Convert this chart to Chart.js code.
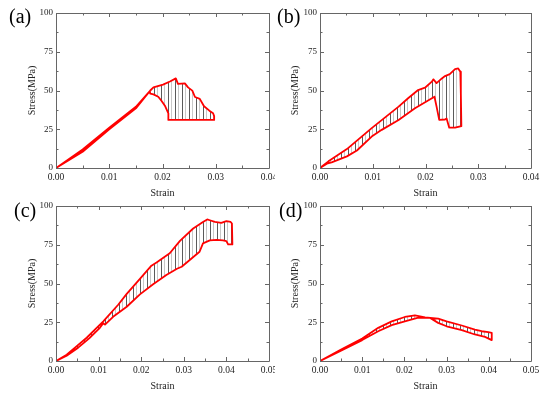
<!DOCTYPE html>
<html>
<head>
<meta charset="utf-8">
<script src="https://cdn.jsdelivr.net/npm/chart.js@4.4.0/dist/chart.umd.min.js"></script>
<style>
  html, body { margin: 0; padding: 0; background: #fff; }
  body { width: 550px; height: 395px; position: relative; overflow: hidden; font-family: 'Liberation Serif', 'Times New Roman', serif; }
  .panel { position: absolute; width: 275px; overflow: hidden; }
  .panel canvas { position: absolute; top: 0; }
  .tag { position: absolute; font-size: 20px; line-height: 20px; color: #000; }
</style>
</head>
<body>
<div class="panel" style="left:0;top:0;height:200px"><canvas id="chartA" width="286" height="200" style="left:0"></canvas></div>
<div class="panel" style="left:275px;top:0;height:200px"><canvas id="chartB" width="286" height="200" style="left:-11px"></canvas></div>
<div class="panel" style="left:0;top:193px;height:202px"><canvas id="chartC" width="286" height="200" style="left:0"></canvas></div>
<div class="panel" style="left:275px;top:193px;height:202px"><canvas id="chartD" width="286" height="200" style="left:-11px"></canvas></div>
<div class="tag" style="left:9px;top:6px">(a)</div>
<div class="tag" style="left:277px;top:6px">(b)</div>
<div class="tag" style="left:14px;top:200px">(c)</div>
<div class="tag" style="left:279px;top:200px">(d)</div>
<script>
// (a)
const upperStrainA = [0, 0.005, 0.01, 0.015, 0.0177, 0.0183, 0.0201, 0.0214, 0.0225, 0.0229, 0.0242, 0.0248, 0.0256, 0.0261, 0.027, 0.0278, 0.0288, 0.0295, 0.0297];
const upperStressA = [0, 12, 26, 39.5, 50, 52, 53.8, 55.8, 57.8, 54.3, 54.6, 52, 49.9, 45.8, 44.6, 39.8, 37, 35.3, 33.5];
const lowerStrainA = [0, 0.005, 0.01, 0.015, 0.0176, 0.0177, 0.0183, 0.0192, 0.0198, 0.02045, 0.0211, 0.0212, 0.0297];
const lowerStressA = [0, 10.5, 25, 38.5, 49.5, 48, 47.5, 46, 43.4, 40.2, 35.3, 31, 31];
// (b)
const upperStrainB = [0, 0.0016, 0.0051, 0.0098, 0.0149, 0.0167, 0.0186, 0.0199, 0.0212, 0.0215, 0.0221, 0.0231, 0.0237, 0.0246, 0.0256, 0.0262, 0.0266, 0.0267, 0.0268];
const upperStressB = [0, 4.3, 12.2, 25.7, 39.6, 45, 50.3, 51.8, 55.7, 57.2, 54.8, 57.8, 59.3, 60.6, 63.8, 64.2, 62.1, 48.2, 27];
const lowerStrainB = [0, 0.0013, 0.0022, 0.0051, 0.007, 0.0098, 0.0117, 0.0149, 0.018, 0.0217, 0.0221, 0.0226, 0.0237, 0.024, 0.0245, 0.0256, 0.0268];
const lowerStressB = [0, 2.8, 3.6, 7.5, 11.3, 20.3, 24.6, 31, 38.5, 46, 39.6, 31, 31.3, 32, 26, 26, 27];
// (c)
const upperStrainC = [0, 0.0025, 0.0048, 0.0072, 0.0099, 0.0111, 0.0146, 0.0166, 0.0197, 0.0224, 0.0236, 0.0267, 0.0291, 0.0322, 0.0345, 0.0355, 0.0361, 0.0373, 0.0388, 0.04, 0.041, 0.0413, 0.0414];
const upperStressC = [0, 4, 9.4, 15, 22.4, 25.6, 36.3, 43.3, 53, 61.5, 63.6, 69.5, 77.5, 85.5, 89.7, 91.3, 90.8, 89.7, 89.1, 90.2, 89.7, 88.7, 76];
const lowerStrainC = [0, 0.0025, 0.0052, 0.0078, 0.0103, 0.0111, 0.0115, 0.0134, 0.0166, 0.0197, 0.0228, 0.0259, 0.0284, 0.0295, 0.0337, 0.0345, 0.0361, 0.0377, 0.0392, 0.04, 0.0404, 0.0414];
const lowerStressC = [0, 3.4, 8.6, 14.6, 21.4, 24.4, 23.5, 28.5, 35, 43, 49.5, 55.5, 59.5, 60.8, 70.5, 75.9, 77.8, 78.2, 77.8, 77.4, 75.2, 75.2];
// (d)
const upperStrainD = [0, 0.0051, 0.01, 0.0138, 0.017, 0.0201, 0.0225, 0.0249, 0.028, 0.03, 0.0336, 0.0367, 0.0383, 0.0399, 0.0407, 0.0407];
const upperStressD = [0, 7.5, 14.5, 21.4, 25.6, 28.4, 29.5, 28.2, 27.4, 25.6, 22.9, 20.3, 19.2, 18.6, 18.2, 15];
const lowerStrainD = [0, 0.0051, 0.01, 0.0138, 0.017, 0.0201, 0.0233, 0.0261, 0.028, 0.03, 0.0336, 0.0367, 0.0391, 0.0407];
const lowerStressD = [0, 6.8, 13.5, 19.2, 23.1, 25.6, 28, 27.8, 24.6, 22.4, 19.9, 17.1, 15.6, 13.5];

const stressTicks = [0, 25, 50, 75, 100];

const serif = "'Liberation Serif', 'Times New Roman', serif";
const inkColor = '#222';
const frameColor = '#666';

// vertical hatch used to fill between the two curves
function hatchPattern() {
  const c = document.createElement('canvas');
  c.width = 7; c.height = 4;
  const g = c.getContext('2d');
  g.fillStyle = '#5a5a5a'; g.fillRect(0, 0, 1, 4);
  g.fillStyle = '#c8c8c8'; g.fillRect(3, 0, 1, 4);
  return g.createPattern(c, 'repeat');
}

// upper curve out, lower curve back -> one closed outline
function loop(ux, uy, lx, ly) {
  const up = ux.map((x, i) => ({x: x, y: uy[i]}));
  const lo = lx.map((x, i) => ({x: x, y: ly[i]})).reverse();
  return up.concat(lo);
}

// box frame with inward major/minor ticks on all four sides
const frameTicks = {
  id: 'frameTicks',
  afterDraw(chart) {
    const {ctx, chartArea: a, scales} = chart;
    const x = scales.x, y = scales.y;
    ctx.save();
    ctx.strokeStyle = frameColor;
    ctx.lineWidth = 1;
    ctx.beginPath();
    ctx.rect(Math.round(a.left) + 0.5, Math.round(a.top) + 0.5, Math.round(a.right - a.left), Math.round(a.bottom - a.top));
    ctx.stroke();
    ctx.beginPath();
    const xv = x.ticks.map(t => t.value);
    xv.forEach((v, i) => {
      const px = Math.round(x.getPixelForValue(v)) + 0.5;
      ctx.moveTo(px, a.bottom); ctx.lineTo(px, a.bottom - 4);
      ctx.moveTo(px, a.top); ctx.lineTo(px, a.top + 4);
      if (i < xv.length - 1) {
        const mx = Math.round(x.getPixelForValue((v + xv[i + 1]) / 2)) + 0.5;
        ctx.moveTo(mx, a.bottom); ctx.lineTo(mx, a.bottom - 2.5);
        ctx.moveTo(mx, a.top); ctx.lineTo(mx, a.top + 2.5);
      }
    });
    const yv = y.ticks.map(t => t.value);
    yv.forEach((v, i) => {
      const py = Math.round(y.getPixelForValue(v)) + 0.5;
      ctx.moveTo(a.left, py); ctx.lineTo(a.left + 4, py);
      ctx.moveTo(a.right, py); ctx.lineTo(a.right - 4, py);
      if (i < yv.length - 1) {
        const my = Math.round(y.getPixelForValue((v + yv[i + 1]) / 2)) + 0.5;
        ctx.moveTo(a.left, my); ctx.lineTo(a.left + 2.5, my);
        ctx.moveTo(a.right, my); ctx.lineTo(a.right - 2.5, my);
      }
    });
    ctx.stroke();
    ctx.restore();
  }
};

function makeChart(id, data, xMax, yAxisWidth, padLeft, padRight) {
  new Chart(document.getElementById(id), {
    type: 'line',
    data: {
      datasets: [{
        data: data,
        borderColor: '#ff0000',
        borderWidth: 1.8,
        borderJoinStyle: 'round',
        pointRadius: 0,
        tension: 0,
        fill: 'shape',
        backgroundColor: hatchPattern()
      }]
    },
    options: {
      responsive: false,
      animation: false,
      layout: { padding: { left: padLeft, right: padRight, top: 13, bottom: 1 } },
      plugins: { legend: { display: false }, tooltip: { enabled: false } },
      scales: {
        x: {
          type: 'linear', min: 0, max: xMax,
          ticks: { stepSize: 0.01, autoSkip: false, maxRotation: 0, padding: 4, color: inkColor,
                   font: { family: serif, size: 9.5 }, callback: v => v.toFixed(2) },
          grid: { display: false, drawTicks: false },
          border: { display: false },
          title: { display: true, text: 'Strain', color: inkColor, padding: 0, font: { family: serif, size: 10 } },
          afterFit(s) { s.height = 31; }
        },
        y: {
          type: 'linear', min: 0, max: 100,
          afterBuildTicks(s) { s.ticks = stressTicks.map(v => ({value: v})); },
          ticks: { padding: 3, color: inkColor, font: { family: serif, size: 9 } },
          grid: { display: false, drawTicks: false },
          border: { display: false },
          title: { display: true, text: 'Stress(MPa)', color: inkColor, padding: 0, font: { family: serif, size: 10 } },
          afterFit(s) { s.width = yAxisWidth; }
        }
      }
    },
    plugins: [frameTicks]
  });
}

makeChart('chartA', loop(upperStrainA, upperStressA, lowerStrainA, lowerStressA), 0.04, 30, 26, 17);
makeChart('chartB', loop(upperStrainB, upperStressB, lowerStrainB, lowerStressB), 0.04, 31, 25, 19);
makeChart('chartC', loop(upperStrainC, upperStressC, lowerStrainC, lowerStressC), 0.05, 30, 26, 17);
makeChart('chartD', loop(upperStrainD, upperStressD, lowerStrainD, lowerStressD), 0.05, 31, 25, 19);
</script>
</body>
</html>
